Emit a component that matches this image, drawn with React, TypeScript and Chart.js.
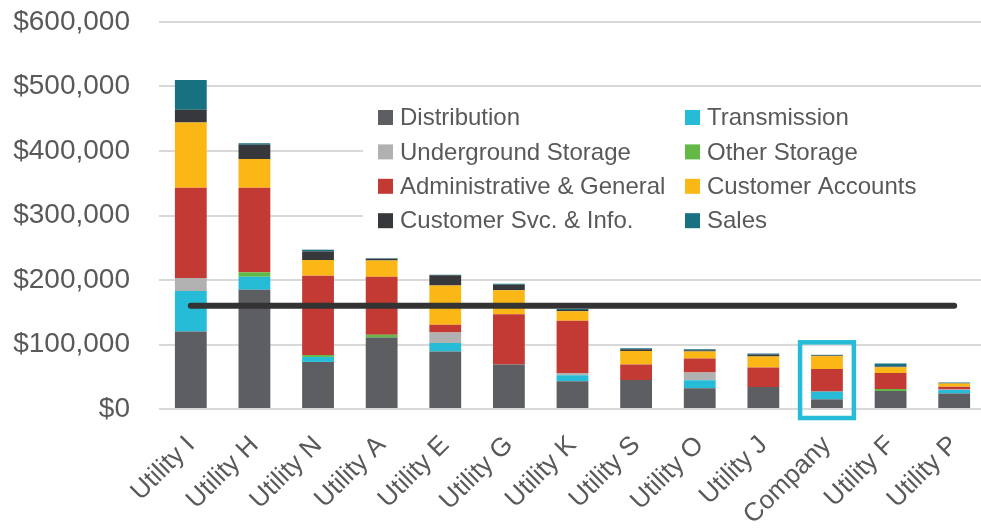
import React, { useEffect, useRef } from 'react';
import { Chart, registerables } from 'chart.js';

Chart.register(...registerables);

const categories = ['Utility I', 'Utility H', 'Utility N', 'Utility A', 'Utility E', 'Utility G', 'Utility K', 'Utility S', 'Utility O', 'Utility J', 'Company', 'Utility F', 'Utility P'];

const distribution = [120000, 185000, 73000, 111000, 89000, 69000, 43000, 45000, 32000, 34000, 15000, 28000, 24000];
const transmission = [63000, 20000, 7700, 0, 13500, 0, 9300, 0, 12400, 0, 12000, 0, 5300];
const undergroundStorage = [20000, 0, 0, 0, 16000, 0, 3600, 0, 12000, 0, 0, 0, 800];
const otherStorage = [0, 7000, 3000, 4000, 0, 0, 0, 0, 0, 0, 0, 3000, 0];
const adminGeneral = [140000, 131000, 123000, 90000, 12000, 78000, 81000, 24000, 22000, 30500, 35000, 25000, 4300];
const customerAccounts = [101000, 44500, 24300, 25400, 61000, 37000, 14600, 21000, 10800, 17000, 20000, 8700, 5000];
const customerSvcInfo = [20000, 22000, 13400, 2500, 16000, 8700, 2000, 2600, 2000, 3000, 1000, 1000, 1000];
const sales = [46000, 2500, 2600, 1000, 700, 1500, 1500, 1500, 1500, 1500, 1000, 5000, 500];

const peerAverage = 160000;
const highlighted = 'Company';

const seriesLabels = ['Distribution', 'Transmission', 'Underground Storage', 'Other Storage', 'Administrative & General', 'Customer Accounts', 'Customer Svc. & Info.', 'Sales'];
const seriesValues = [distribution, transmission, undergroundStorage, otherStorage, adminGeneral, customerAccounts, customerSvcInfo, sales];
const seriesColors = ['#5D5E62', '#26BCD7', '#B1B1B1', '#62B946', '#C23A33', '#FBB715', '#37383B', '#177181'];

const yMax = 600000;
const yStep = 100000;

const FONT = '"Liberation Sans", Arial, sans-serif';
const TEXT = '#595959';

const legendPlugin = {
  id: 'customLegend',
  afterDatasetsDraw(chart: any) {
    const ctx = chart.ctx;
    const area = chart.chartArea;
    ctx.save();
    ctx.fillStyle = '#ffffff';
    ctx.fillRect(area.left + 204, area.top + 74, area.right - area.left - 209, 144);
    ctx.font = `24px ${FONT}`;
    ctx.textBaseline = 'middle';
    ctx.textAlign = 'left';
    const bars = chart.data.datasets.filter((d: any) => d.type !== 'line');
    bars.forEach((d: any, i: number) => {
      const col = i % 2;
      const row = Math.floor(i / 2);
      const mx = area.left + (col === 0 ? 219 : 526);
      const cy = area.top + 95.5 + row * 34.4;
      ctx.fillStyle = d.backgroundColor;
      ctx.fillRect(mx, cy - 7.5, 15, 15);
      ctx.fillStyle = TEXT;
      ctx.fillText(d.label, mx + 22, cy + 1);
    });
    ctx.restore();
  },
};

const highlightPlugin = {
  id: 'highlightBox',
  afterDatasetsDraw(chart: any) {
    const idx = categories.indexOf(highlighted);
    if (idx < 0) return;
    const meta = chart.getDatasetMeta(0);
    const bar = meta.data[idx];
    const xs = chart.scales.x;
    const ys = chart.scales.y;
    const total = seriesValues.reduce((s, arr) => s + arr[idx], 0);
    const cx = xs.getPixelForValue(idx);
    const half = bar.width / 2 + 11;
    const top = ys.getPixelForValue(total) - 12.5;
    const bottom = ys.getPixelForValue(0) + 9;
    const ctx = chart.ctx;
    ctx.save();
    ctx.strokeStyle = '#26BCD7';
    ctx.lineWidth = 4.5;
    ctx.strokeRect(cx - half, top, half * 2, bottom - top);
    ctx.restore();
  },
};

export default function App() {
  const ref = useRef<HTMLCanvasElement>(null);

  useEffect(() => {
    if (!ref.current) return;
    const datasets: any[] = seriesLabels.map((label, i) => ({
      type: 'bar',
      label,
      data: seriesValues[i],
      backgroundColor: seriesColors[i],
      borderWidth: 0,
      order: 1,
      barPercentage: 0.5,
      categoryPercentage: 1,
    }));
    datasets.push({
      type: 'line',
      label: 'Peer Average',
      data: categories.map(() => peerAverage),
      borderColor: '#333333',
      borderWidth: 6,
      borderCapStyle: 'round',
      pointRadius: 0,
      fill: false,
      order: 0,
      stack: 'avg',
    });

    const chart = new Chart(ref.current, {
      type: 'bar',
      data: { labels: categories, datasets },
      options: {
        responsive: false,
        animation: false,
        layout: { padding: { top: 0, right: 4, left: 0, bottom: 0 } },
        plugins: {
          legend: { display: false },
          tooltip: { enabled: false },
        },
        scales: {
          x: {
            stacked: true,
            grid: { display: false },
            border: { display: false },
            ticks: {
              color: TEXT,
              font: { family: FONT, size: 26 },
              maxRotation: 45,
              minRotation: 45,
              autoSkip: false,
              padding: 13,
            },
            afterFit(scale: any) {
              scale.height = 123;
            },
          },
          y: {
            stacked: true,
            min: 0,
            max: yMax,
            grid: { color: '#D9D9D9', lineWidth: 2, drawTicks: false },
            border: { display: false },
            ticks: {
              stepSize: yStep,
              color: TEXT,
              font: { family: FONT, size: 28 },
              padding: 29,
              callback: (v: any) => '$' + Number(v).toLocaleString('en-US'),
            },
            afterFit(scale: any) {
              scale.width = 159;
              scale.paddingTop = 22;
              scale.paddingBottom = 0;
            },
          },
        },
      },
      plugins: [legendPlugin, highlightPlugin],
    });
    return () => chart.destroy();
  }, []);

  return (
    <div style={{ position: 'fixed', left: 0, top: 0, width: 981, height: 532, overflow: 'hidden', background: '#fff' }}>
      <canvas ref={ref} width={990} height={532} style={{ display: 'block' }} />
    </div>
  );
}
